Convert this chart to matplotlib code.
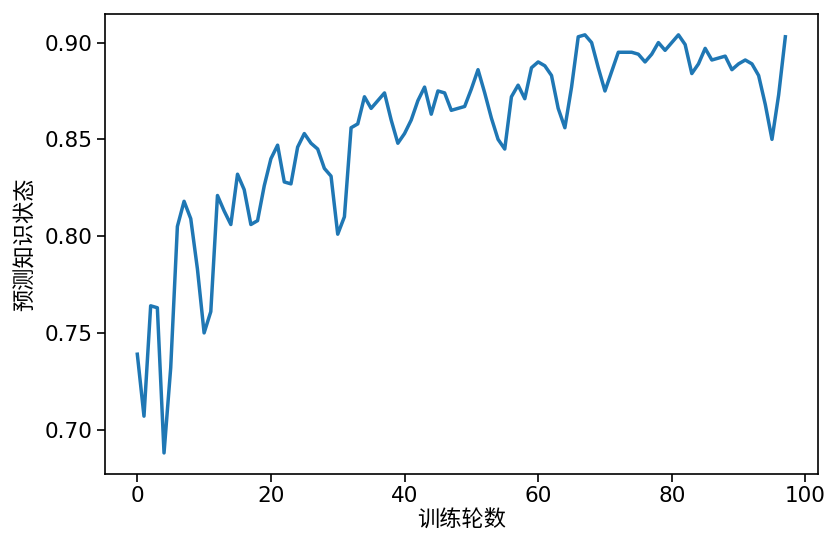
import matplotlib
matplotlib.use("Agg")
import matplotlib.pyplot as plt

# 数字用 DejaVu Sans，中文回退到 Noto Sans CJK
plt.rcParams['font.family'] = ['DejaVu Sans', 'Noto Sans CJK SC']
plt.rcParams['axes.unicode_minus'] = False

# 每轮训练后的预测知识状态
epochs = list(range(98))
knowledge_state = [
    0.739, 0.707, 0.764, 0.763, 0.688, 0.732, 0.805, 0.818, 0.809, 0.783,
    0.750, 0.761, 0.821, 0.813, 0.806, 0.832, 0.824, 0.806, 0.808, 0.826,
    0.840, 0.847, 0.828, 0.827, 0.846, 0.853, 0.848, 0.845, 0.835, 0.831,
    0.801, 0.810, 0.856, 0.858, 0.872, 0.866, 0.870, 0.874, 0.860, 0.848,
    0.853, 0.860, 0.870, 0.877, 0.863, 0.875, 0.874, 0.865, 0.866, 0.867,
    0.876, 0.886, 0.874, 0.861, 0.850, 0.845, 0.872, 0.878, 0.871, 0.887,
    0.890, 0.888, 0.883, 0.866, 0.856, 0.877, 0.903, 0.904, 0.900, 0.887,
    0.875, 0.885, 0.895, 0.895, 0.895, 0.894, 0.890, 0.894, 0.900, 0.896,
    0.900, 0.904, 0.899, 0.884, 0.889, 0.897, 0.891, 0.892, 0.893, 0.886,
    0.889, 0.891, 0.889, 0.883, 0.868, 0.850, 0.873, 0.903,
]

fig, ax = plt.subplots(figsize=(8.26, 5.36), dpi=100)
fig.subplots_adjust(left=0.127, right=0.990, bottom=0.116, top=0.974)

ax.plot(epochs, knowledge_state, color='#1f77b4', linewidth=2.5)
ax.set_xticks([0, 20, 40, 60, 80, 100])
ax.set_yticks([0.70, 0.75, 0.80, 0.85, 0.90])
ax.tick_params(labelsize=15.5, width=1.2, length=5.5)
for s in ax.spines.values():
    s.set_linewidth(1.2)

ax.set_xlabel('训练轮数', fontsize=16, labelpad=2)
ax.set_ylabel('预测知识状态', fontsize=16, labelpad=6)

plt.savefig('out.png', dpi=100)
